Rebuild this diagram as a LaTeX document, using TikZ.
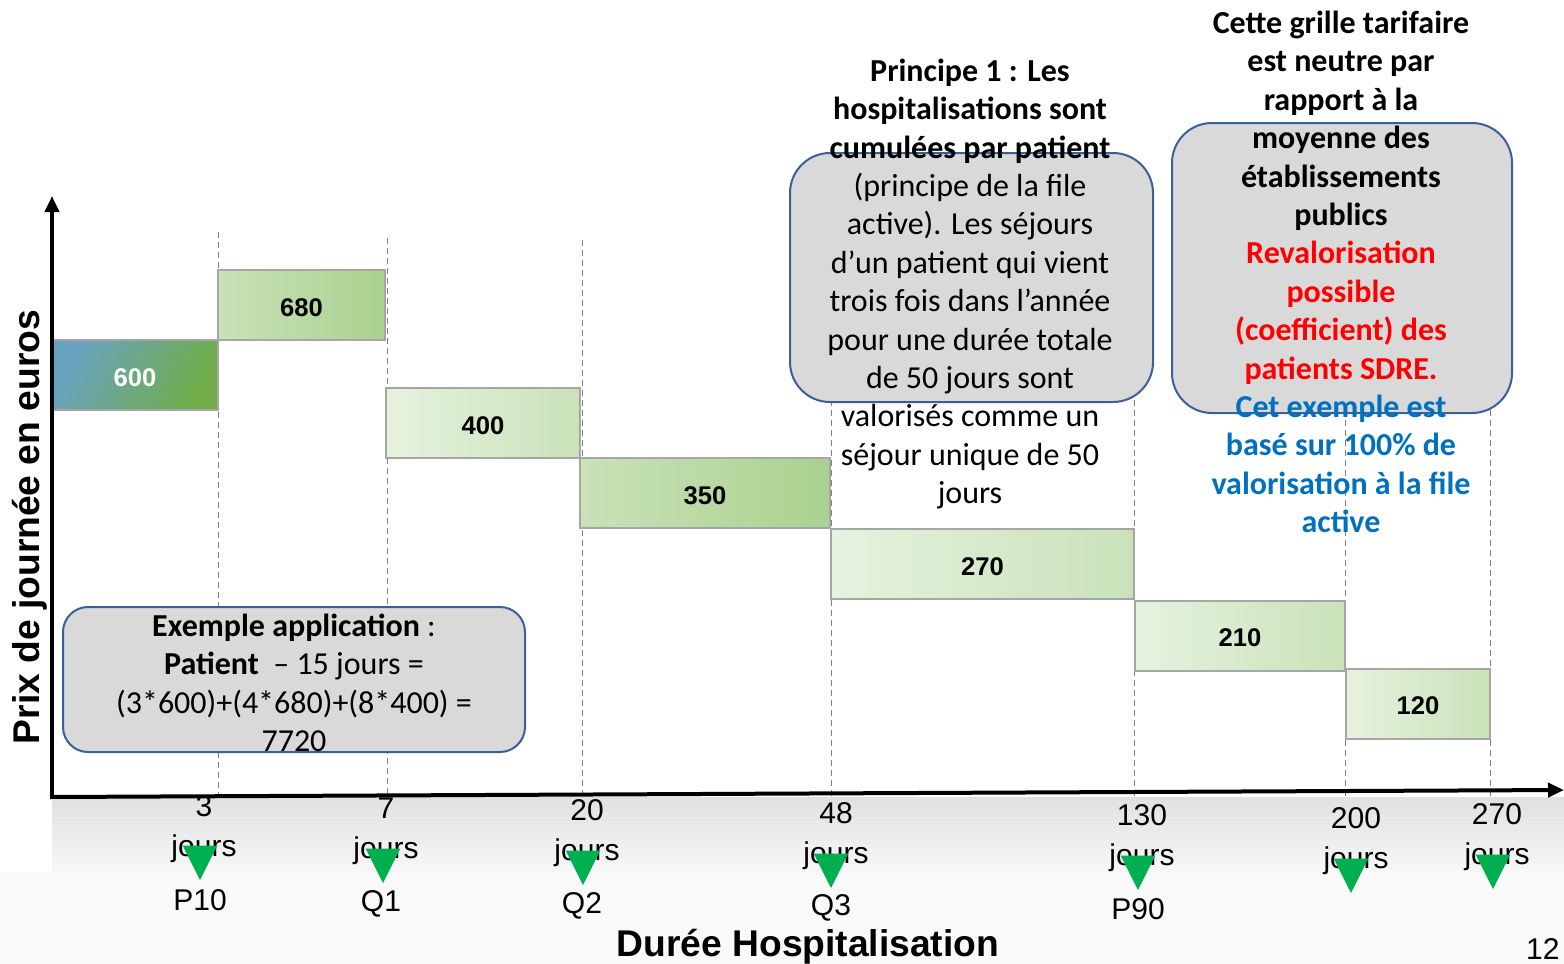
\documentclass[tikz,border=0pt]{standalone}
\usepackage{fontspec}
\setmainfont{Carlito}
\newfontfamily\arialfont{Liberation Sans}
\usetikzlibrary{shapes.geometric,arrows.meta}
\definecolor{boxgray}{HTML}{D9D9D9}
\definecolor{boxblue}{HTML}{3A5F9A}
\definecolor{trigreen}{HTML}{00B050}
\definecolor{sdrered}{HTML}{FF0000}
\definecolor{exblue}{HTML}{0070C0}
\definecolor{barpale}{HTML}{E6F2DF}
\definecolor{barlight}{HTML}{C9E2B9}
\definecolor{barmid}{HTML}{AAD18F}
\definecolor{barblue}{HTML}{6AA3C2}
\definecolor{bargreen}{HTML}{70AD47}
\definecolor{barframe}{HTML}{A6A6A6}
\begin{document}
\begin{tikzpicture}[x=0.5pt,y=-0.5pt,
  bar/.style={draw=barframe,line width=1pt,minimum width=#1,minimum height=35pt,inner sep=0pt,
    text height=11pt,text depth=0pt,font=\arialfont\bfseries\fontsize{12.8}{14}\selectfont},
  palebar/.style={bar=#1,left color=barpale,right color=barlight},
  midbar/.style={bar=#1,left color=barlight,right color=barmid},
  ticklab/.style={font=\arialfont\fontsize{15}{20}\selectfont,align=center,inner sep=0pt},
  quartlab/.style={font=\arialfont\fontsize{15}{18}\selectfont,inner sep=0pt},
  marker/.style={regular polygon,regular polygon sides=3,shape border rotate=180,fill=trigreen,
    minimum size=20pt,yscale=1.15,inner sep=0pt},
  roundbox/.style={draw=boxblue,line width=1pt,fill=boxgray,rounded corners=#1,inner sep=0pt},
  boxtext/.style={align=center,font=\fontsize{16}{19.2}\selectfont,inner sep=0pt},
  gridline/.style={gray,dash pattern=on 3pt off 2pt,line width=0.5pt},
  axis/.style={line width=2pt,-{Triangle[length=8pt,width=7pt]}}]
\useasboundingbox (0,0) rectangle (1564,964);
\shade [top color=gray!24,bottom color=gray!6] (52,797) rectangle (1564,872);
\fill [gray!5] (0,872) rectangle (1564,964);
\draw [gridline] (218,232) -- (218,797);
\draw [gridline] (387,238) -- (387,797);
\draw [gridline] (582,240) -- (582,797);
\draw [gridline] (831,240) -- (831,797);
\draw [gridline] (1134,240) -- (1134,797);
\draw [gridline] (1345,240) -- (1345,797);
\draw [gridline] (1490,240) -- (1490,797);
\node [bar=83pt,text=white,left color=barblue,right color=bargreen,shading angle=60] (b600) at (135,375) {600};
\node [midbar=83.5pt] (b680) at (301.5,305) {680};
\node [palebar=97pt] (b400) at (483,423) {400};
\node [midbar=125pt] (b350) at (705,493) {350};
\node [palebar=151.5pt] (b270) at (982.5,564) {270};
\node [palebar=105pt] (b210) at (1240,635.5) {210};
\node [palebar=72pt] (b120) at (1418,703.5) {120};
\coordinate (origin) at (52,797);
\coordinate (ytop) at (52,196);
\coordinate (xend) at (1564,790);
\draw [axis] (origin) -- (ytop);
\draw [axis] ([xshift=-1pt]origin) -- (xend);
\node [roundbox=12.5pt,minimum width=231pt,minimum height=72.5pt] (exbox) at (294,679.5) {};
\node [boxtext] (extext) at (294,683) {\textbf{Exemple application} :\\
  \textbf{Patient}\ \ -- 15 jours =\\
  (3*600)+(4*680)+(8*400) =\\
  7720};
\node [roundbox=20pt,minimum width=181.5pt,minimum height=124.5pt] (princbox) at (971.5,277.5) {};
\node [boxtext] (princtext) at (970,284) {\textbf{Principe 1 : Les}\\
  \textbf{hospitalisations sont}\\
  \textbf{cumulées par patient}\\
  (principe de la file\\
  active). Les séjours\\
  d’un patient qui vient\\
  trois fois dans l’année\\
  pour une durée totale\\
  de 50 jours sont\\
  valorisés comme un\\
  séjour unique de 50\\
  jours};
\node [roundbox=20pt,minimum width=170pt,minimum height=145pt] (grillebox) at (1342,268) {};
\node [boxtext,font=\fontsize{16}{19.2}\selectfont\bfseries] (grilletext) at (1341,272) {Cette grille tarifaire\\
  est neutre par\\
  rapport à la\\
  moyenne des\\
  établissements\\
  publics\\
  \textcolor{sdrered}{Revalorisation}\\
  \textcolor{sdrered}{possible}\\
  \textcolor{sdrered}{(coefficient) des}\\
  \textcolor{sdrered}{patients SDRE.}\\
  \textcolor{exblue}{Cet exemple est}\\
  \textcolor{exblue}{basé sur 100\% de}\\
  \textcolor{exblue}{valorisation à la file}\\
  \textcolor{exblue}{active}};
\node [ticklab] (t3) at (204,829) {3\\jours};
\node [ticklab] (t7) at (386,831) {7\\jours};
\node [ticklab] (t20) at (587,833) {20\\jours};
\node [ticklab] (t48) at (836,836) {48\\jours};
\node [ticklab] (t130) at (1142,838) {130\\jours};
\node [ticklab] (t200) at (1356,841) {200\\jours};
\node [ticklab] (t270) at (1497,837) {270\\jours};
\node [quartlab] (p10) at (200,900) {P10};
\node [quartlab] (q1) at (381,904) {Q1};
\node [quartlab] (q2) at (582,906) {Q2};
\node [quartlab] (q3) at (831,908) {Q3};
\node [quartlab] (p90) at (1138,909) {P90};
\node [marker] (m3) at (200,857) {};
\node [marker] (m7) at (383,860) {};
\node [marker] (m20) at (583,862) {};
\node [marker] (m48) at (831,865) {};
\node [marker] (m130) at (1138,867) {};
\node [marker] (m200) at (1351,870) {};
\node [marker] (m270) at (1493,866) {};
\node [font=\arialfont\bfseries\fontsize{18.6}{20}\selectfont,rotate=90,inner sep=0pt] (ylab) at (30,527) {Prix de journée en euros};
\node [font=\arialfont\bfseries\fontsize{18.6}{20}\selectfont,inner sep=0pt] (xlab) at (808,947) {Durée Hospitalisation};
\node [font=\arialfont\fontsize{15}{18}\selectfont,anchor=south east,inner sep=0pt] (pagenum) at (1560,960) {12};
\end{tikzpicture}
\end{document}
